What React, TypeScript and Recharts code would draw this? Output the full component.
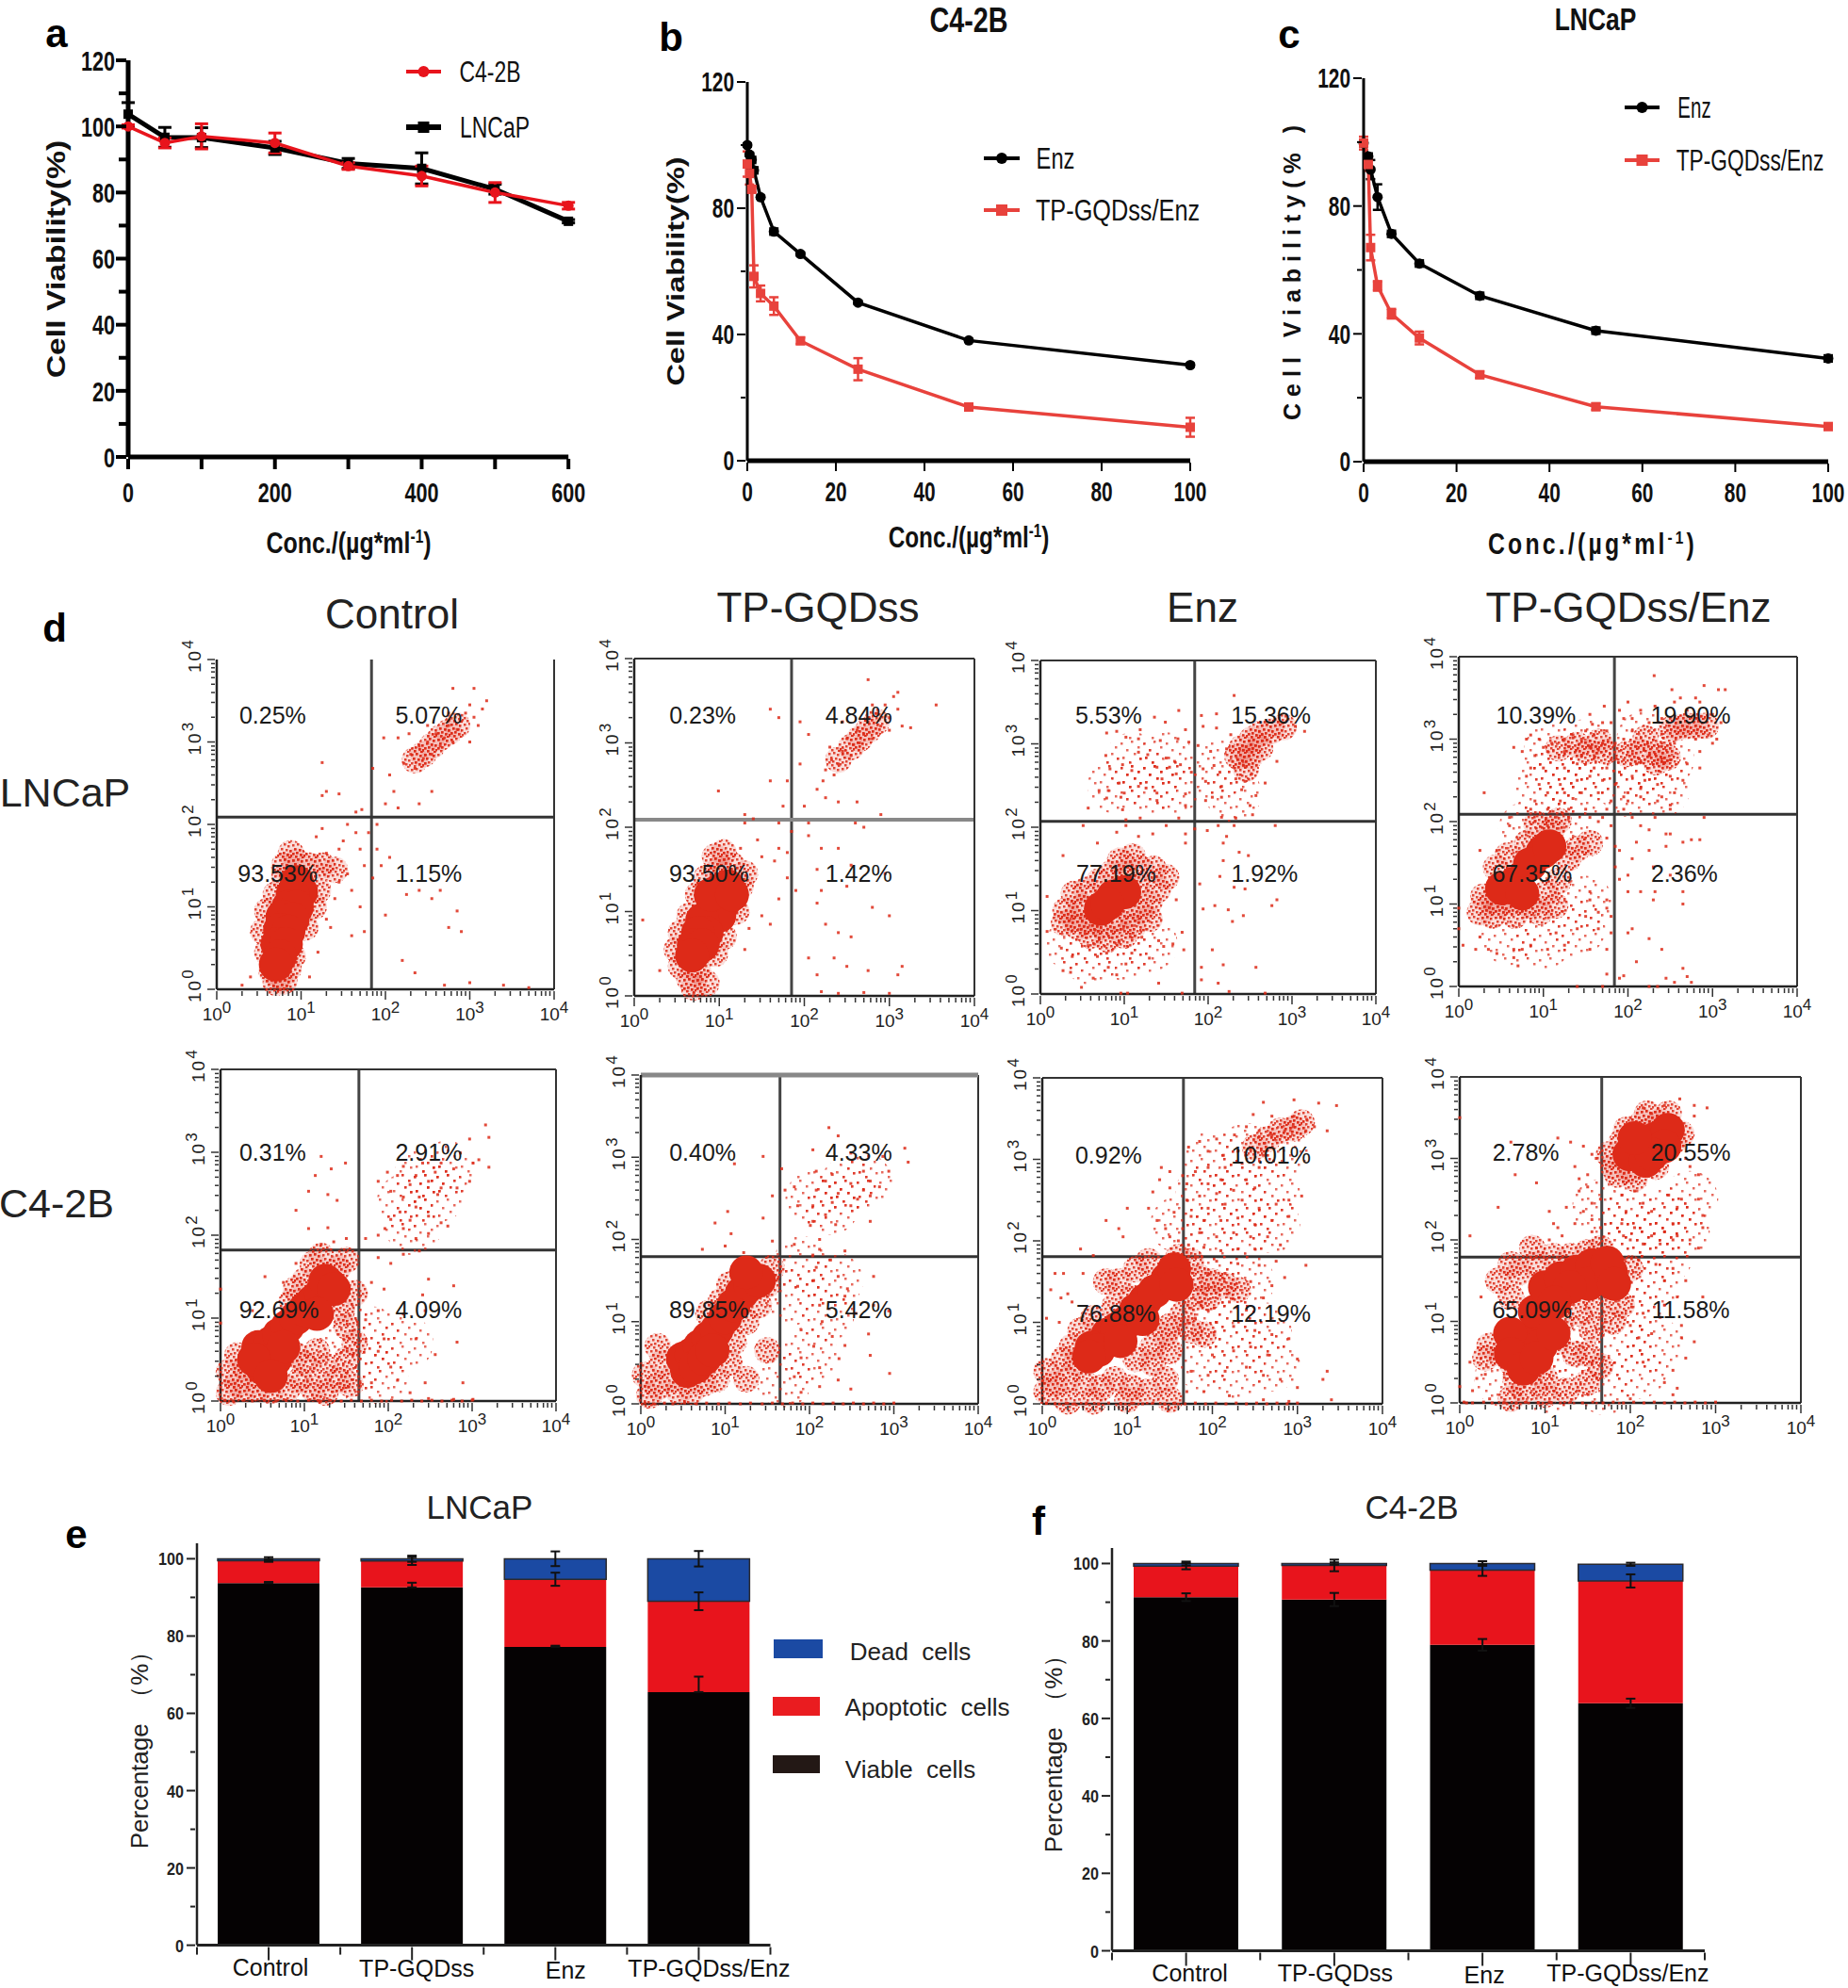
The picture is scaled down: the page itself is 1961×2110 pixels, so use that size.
import React from "react";
import {
  LineChart,
  Line,
  XAxis,
  YAxis,
  ErrorBar,
  ScatterChart,
  Scatter,
  ReferenceLine,
  ComposedChart,
  Bar,
} from "recharts";

const K = 1961 / 1457;
const FONT = '"Liberation Sans", Arial, sans-serif';
const RED = "#e8141c";
const SOFT_RED = "#e8423c";
const DOT_RED = "#dd2a18";

// panel a
const concA = [0, 50, 100, 200, 300, 400, 500, 600];
const c42bA = [100, 95, 97, 95, 88, 85, 80, 76];
const c42bErrA = [0.5, 1.5, 3.8, 3, 1, 3, 3, 1];
const lncapA = [103.7, 96.7, 96.6, 93.5, 88.8, 87.3, 81, 71.3];
const lncapErrA = [3.5, 3, 3, 2, 1.5, 4.7, 1.5, 0.5];

// panel b
const concB = [0, 0.5, 1, 1.5, 3, 6, 12, 25, 50, 100];
const enzB = [100, 97, 95.3, 92, 83.5, 72.6, 65.5, 50.1, 38.1, 30.3];
const enzErrB = [0.5, 0.5, 1, 1, 0.5, 1, 0.5, 0.5, 0.5, 0.5];
const tpB = [94, 91, 86, 58.4, 53, 49, 38, 29, 17, 10.6];
const tpErrB = [4, 3.5, 1, 3.5, 2.5, 2.8, 1, 3.5, 1, 3];

// panel c
const concC = [0, 1, 1.5, 3, 6, 12, 25, 50, 100];
const enzC = [99.7, 95.5, 91.4, 82.8, 71.3, 62, 51.9, 41, 32.3];
const enzErrC = [1, 1, 3, 4, 1, 1, 1, 1, 1];
const tpC = [99.7, 93, 67, 55, 46.3, 38.7, 27.2, 17.2, 11];
const tpErrC = [2, 2, 4, 1.5, 1.5, 2, 1, 1, 1];

// panels e and f
const groups = ["Control", "TP-GQDss", "Enz", "TP-GQDss/Enz"];
const viableE = [93.7, 92.6, 77.2, 65.5];
const apoptoticE = [5.8, 6.8, 17.5, 23.5];
const deadE = [0.5, 0.6, 5.3, 11];
const viableErrE = [[0, 0.3], [0, 1.2], [0, 0.3], [0, 4]];
const apoptoticErrE = [[0.3, 0.3], [1, 1], [1.7, 1.7], [2.3, 2.3]];
const deadErrE = [[0.4, 0.4], [0.8, 0.8], [1.9, 1.9], [2, 2]];
const viableF = [91.3, 90.7, 79, 63.9];
const apoptoticF = [8, 8.8, 19.3, 31.6];
const deadF = [0.7, 0.5, 1.7, 4.3];
const viableErrF = [[1, 1], [1.7, 1.7], [1.5, 1.5], [1.2, 1.2]];
const apoptoticErrF = [[0.8, 0.8], [1.5, 1.5], [1.5, 1.5], [1.7, 1.7]];
const deadErrF = [[0.5, 0.5], [0.3, 0.3], [0.6, 0.6], [0.4, 0.4]];

// panel d, flow events, as log10(intensity) x 100
const coreL1 = [[95,130],[100,118],[90,115],[85,100],[95,100],[78,88],[90,85],[75,72],[85,70],[72,55],[82,55],[75,40],[70,30]];
const haloL1 = [[75,15],[70,8],[65,22],[80,10],[85,25],[60,45],[90,40],[55,70],[60,95],[105,75],[115,100],[120,120],[70,115],[80,135],[110,150],[95,155],[125,150],[140,145],[80,150],[88,165],[245,285],[255,295],[265,305],[235,278],[275,312],[285,320]];
const dotsL1 = [[222,274],[230,285],[235,268],[240,295],[245,280],[250,300],[255,285],[260,310],[265,295],[270,305],[275,320],[280,300],[285,315],[290,325],[295,335],[300,345],[305,330],[310,320],[300,300],[315,340],[320,350],[305,365],[280,365],[275,335],[250,320],[228,310],[215,305],[198,305],[205,260],[185,268],[210,240],[215,220],[240,225],[255,240],[125,275],[130,240],[125,235],[145,237],[165,215],[190,200],[200,225],[172,218],[180,190],[190,170],[205,160],[195,150],[165,190],[150,180],[145,170],[130,165],[118,185],[125,195],[155,200],[170,170],[175,150],[185,135],[160,120],[170,100],[175,70],[200,90],[240,120],[255,110],[225,115],[265,120],[285,95],[290,70],[275,75],[220,35],[235,20],[270,5],[300,8],[340,5],[370,2],[160,65],[135,75],[155,140],[145,130],[140,110],[130,85],[120,45],[110,15],[40,15],[30,5]];

const coreL2 = [[110,130],[100,125],[105,110],[95,110],[90,95],[100,95],[80,90],[85,75],[75,75],[70,60],[80,60],[68,48],[90,120],[115,120]];
const haloL2 = [[75,30],[65,20],[70,10],[85,15],[55,35],[50,55],[55,75],[65,95],[120,100],[125,130],[105,70],[95,50],[85,140],[100,150],[115,155],[130,145],[105,170],[95,165],[75,120],[240,280],[255,295],[265,305],[275,315],[285,325]];
const dotsL2 = [[225,268],[232,280],[222,255],[215,245],[235,262],[240,275],[230,295],[245,290],[250,305],[255,285],[258,298],[262,315],[265,300],[270,310],[275,325],[280,305],[285,335],[290,320],[295,345],[300,330],[305,355],[310,340],[300,315],[315,320],[280,345],[275,375],[310,360],[355,345],[325,318],[245,325],[205,310],[195,325],[170,330],[180,255],[195,275],[160,340],[99,243],[160,255],[170,205],[175,225],[200,225],[225,235],[240,230],[260,205],[262,230],[130,215],[140,210],[130,205],[185,195],[205,205],[180,170],[170,175],[165,160],[150,165],[145,185],[125,175],[205,190],[220,175],[215,150],[240,175],[270,200],[290,215],[295,145],[255,155],[250,130],[220,125],[215,110],[190,125],[180,140],[170,115],[225,85],[240,75],[255,70],[280,105],[300,95],[205,45],[215,25],[235,45],[250,35],[275,30],[315,35],[310,25],[160,85],[150,95],[135,80],[130,55],[220,5],[240,3],[270,4],[300,3],[70,3],[30,30],[10,90]];

const coreL3 = [[87,117],[72,102],[100,122],[80,108]];
const haloL3 = [[30,100],[40,90],[50,105],[45,80],[60,85],[75,80],[90,90],[105,95],[120,100],[130,110],[115,130],[100,145],[120,150],[135,150],[150,140],[85,145],[70,135],[55,125],[40,120],[60,70],[80,65],[100,70],[110,80],[28,85],[130,90],[140,125],[110,165],[95,160],[240,295],[252,305],[262,312],[275,315],[290,320],[250,285],[235,285],[262,295],[245,270]];
const washL3 = [[110,280],[150,280],[90,250],[130,250],[160,250],[215,270],[230,240],[60,45],[100,50],[130,60],[40,60]];
const dotsL3 = [[79,313],[91,315],[102,308],[119,317],[136,332],[149,326],[165,340],[143,304],[117,306],[173,317],[164,306],[177,302],[78,286],[98,275],[117,290],[128,287],[150,283],[160,279],[83,270],[109,268],[139,272],[154,272],[167,275],[180,266],[145,258],[162,264],[94,253],[117,249],[126,247],[70,244],[81,244],[100,241],[139,241],[79,235],[96,236],[139,232],[173,240],[57,223],[98,221],[173,226],[102,209],[119,211],[165,211],[231,358],[210,336],[192,334],[194,321],[210,319],[227,311],[304,321],[315,315],[289,325],[222,294],[203,291],[188,298],[207,274],[229,279],[252,264],[194,270],[214,266],[233,258],[244,255],[268,253],[240,245],[216,249],[197,255],[197,232],[205,236],[216,236],[257,238],[250,226],[253,215],[216,212],[233,211],[282,279],[199,196],[212,202],[231,202],[280,202],[222,189],[218,181],[237,170],[248,166],[218,160],[214,141],[231,128],[244,126],[190,132],[282,113],[276,106],[208,106],[224,101],[194,102],[242,94],[229,87],[205,53],[257,32],[218,35],[192,32],[212,13],[192,17],[225,3],[141,13],[184,198],[173,181],[173,192],[8,75],[27,28],[36,26],[49,8],[63,19],[81,32],[91,23],[68,45],[79,49],[102,36],[130,43],[109,49],[25,55],[38,45],[57,58],[94,62],[121,68],[141,64],[158,60],[169,74],[171,53],[147,57],[162,113],[8,117],[96,1],[104,1],[169,1],[268,1],[51,202],[91,194],[102,202],[117,189],[134,192],[150,202],[68,181],[27,166]];

const coreL4 = [[99,163],[66,125],[84,148],[51,119],[75,113],[107,170]];
const haloL4 = [[40,105],[29,109],[66,102],[47,98],[25,90],[40,86],[84,98],[103,113],[118,128],[129,155],[140,167],[110,190],[92,197],[118,201],[81,174],[58,159],[44,144],[155,174],[96,90],[66,86],[114,98],[151,285],[118,289],[166,297],[140,293],[173,285],[251,312],[259,314],[270,316],[281,316],[240,282],[247,278],[221,301],[292,316],[214,285],[199,282],[233,272]];
const washL4 = [[110,285],[150,290],[120,260],[160,260],[100,240],[140,235],[215,270],[200,240],[240,240],[245,275],[220,300],[60,60],[100,55],[140,70],[150,100],[120,195],[80,190]];
const dotsL4 = [[231,377],[290,365],[307,360],[315,360],[252,360],[262,350],[255,345],[280,350],[285,345],[232,340],[200,345],[190,335],[172,340],[155,330],[170,320],[180,320],[158,318],[175,310],[195,325],[215,335],[205,325],[225,320],[240,325],[270,335],[300,330],[310,320],[295,305],[305,300],[300,295],[85,305],[80,300],[95,300],[100,290],[110,295],[125,300],[135,305],[150,310],[145,300],[160,305],[170,295],[155,290],[185,295],[195,300],[205,310],[65,290],[75,285],[90,280],[105,285],[125,285],[145,280],[160,280],[180,275],[195,275],[210,270],[225,280],[240,295],[255,295],[280,300],[285,285],[250,275],[270,270],[285,265],[100,265],[85,265],[125,265],[140,270],[160,265],[175,265],[190,260],[205,255],[220,250],[235,245],[250,255],[265,250],[80,255],[95,245],[120,245],[140,250],[155,255],[170,250],[185,245],[200,235],[215,240],[240,230],[255,235],[105,235],[125,235],[145,235],[165,235],[180,225],[200,225],[215,230],[235,225],[250,220],[120,225],[135,228],[30,235],[90,225],[85,215],[105,215],[130,215],[150,215],[175,215],[195,215],[250,215],[195,230],[205,205],[215,195],[225,190],[232,205],[290,205],[245,185],[250,185],[265,175],[275,178],[285,178],[245,170],[210,175],[225,165],[190,165],[205,155],[185,145],[200,135],[230,145],[250,135],[190,130],[215,115],[200,115],[232,115],[265,115],[230,105],[265,100],[175,105],[155,115],[205,70],[200,65],[225,58],[240,45],[210,30],[245,10],[270,12],[265,22],[275,5],[235,0],[225,0],[190,10],[255,5],[175,15],[170,0],[140,0],[195,13],[0,70],[5,50],[25,60],[20,45],[35,45],[45,40],[65,35],[85,50],[105,45],[115,65],[125,50],[140,70],[165,70],[180,65],[155,45],[175,45],[70,25],[75,45],[65,45],[150,85],[165,90],[175,95],[155,105],[180,85],[25,165],[45,165],[0,95],[60,205],[105,195],[155,205],[170,205],[180,195],[175,180],[185,170],[165,200],[130,205],[90,200],[60,195]];

// events piled up on the bottom edge of the C4-2B plots
const bottomStrip = [[5,1],[15,0],[28,1],[38,0],[52,1],[66,0],[78,1],[92,0],[105,1],[118,0],[130,1],[144,0],[156,1],[168,0],[180,1],[192,0],[204,1],[216,0],[228,1],[240,0],[252,1],[264,0],[276,1],[288,0],[300,1]];

const coreC1 = [[55,55],[45,65],[60,70],[70,80],[50,40],[65,50],[80,90],[90,100],[100,110],[110,120],[120,130],[130,140],[75,65],[40,50],[60,30],[125,145],[135,135],[115,105]];
const haloC1 = [[20,20],[10,10],[30,15],[45,15],[60,12],[80,15],[95,25],[110,15],[125,10],[100,45],[115,60],[125,40],[140,25],[150,50],[90,55],[20,55],[10,35],[30,40],[150,90],[160,130],[145,110],[140,160],[100,145],[110,165],[120,175],[90,135],[150,170],[85,120],[155,20],[160,70]];
const washC1 = [[240,270],[220,240],[260,250],[270,280],[230,210],[130,30],[160,40],[150,85],[180,80],[190,30],[220,70]];
const dotsC1 = [[316,333],[320,318],[297,316],[286,299],[301,287],[320,282],[308,291],[263,287],[241,287],[218,283],[199,276],[188,265],[211,272],[233,272],[256,276],[278,280],[297,265],[282,257],[263,257],[248,265],[226,261],[203,253],[218,246],[237,246],[259,249],[233,234],[214,228],[226,218],[248,223],[263,215],[203,219],[196,208],[218,208],[233,196],[188,200],[173,196],[248,202],[271,211],[120,295],[149,287],[113,272],[132,280],[105,253],[128,249],[90,230],[139,242],[105,208],[128,209],[150,196],[135,192],[120,189],[188,173],[203,166],[218,177],[237,181],[248,147],[278,139],[241,128],[195,135],[180,143],[188,109],[218,105],[244,109],[282,71],[256,56],[233,75],[203,41],[211,25],[244,22],[289,22],[188,60],[180,22],[226,10],[248,3],[278,2],[301,2],[195,75],[173,98],[0,135],[0,94],[53,150],[90,166],[75,143],[38,109]];

const coreC2 = [[55,40],[50,55],[60,60],[70,70],[80,80],[65,45],[90,90],[100,105],[110,120],[120,135],[130,145],[140,150],[75,55],[125,160],[85,65]];
const haloC2 = [[20,20],[10,10],[25,50],[35,30],[45,15],[60,15],[75,25],[90,30],[105,50],[110,75],[125,100],[140,120],[150,145],[155,165],[105,145],[95,125],[20,70],[80,110],[5,35],[125,30],[150,65]];
const washC2 = [[245,265],[225,240],[265,270],[205,250],[180,130],[200,60],[170,30],[220,110],[230,150],[190,170]];
const dotsC2 = [[223,336],[234,326],[313,311],[317,294],[204,309],[249,305],[287,301],[145,301],[111,292],[167,286],[208,283],[227,279],[264,283],[294,283],[272,271],[249,268],[219,271],[182,264],[171,260],[208,260],[234,256],[264,260],[283,264],[257,249],[227,245],[204,241],[186,241],[249,241],[272,253],[219,230],[272,222],[231,218],[204,222],[201,217],[156,253],[103,234],[88,220],[107,207],[145,226],[73,188],[100,192],[122,184],[156,198],[182,194],[212,200],[212,188],[242,186],[204,181],[208,166],[234,155],[276,155],[186,143],[212,120],[242,131],[276,120],[294,113],[190,90],[227,82],[242,71],[272,59],[190,56],[212,44],[295,37],[234,29],[182,33],[190,14],[212,21],[249,18],[205,150],[225,175],[245,140],[215,100],[255,110],[205,70],[235,55],[270,85]];

const coreC3 = [[77,85],[99,100],[121,127],[147,153],[58,69],[88,92],[110,115],[132,138],[66,66],[92,77],[155,165],[158,146],[55,58],[118,104]];
const haloC3 = [[40,50],[30,30],[15,25],[5,15],[5,40],[50,25],[70,20],[85,30],[105,20],[125,15],[145,30],[130,50],[110,55],[150,65],[130,70],[150,95],[165,110],[145,85],[35,70],[25,55],[75,150],[90,150],[110,165],[125,175],[105,130],[85,120],[60,105],[45,90],[160,180],[175,175],[185,155],[200,150],[215,145],[230,140],[180,130],[195,130],[175,90],[190,85],[100,5],[60,3],[30,3],[150,5],[280,335],[295,338],[305,345],[265,325],[250,315]];
const washC3 = [[200,210],[240,210],[270,220],[190,260],[230,260],[270,260],[200,300],[240,310],[280,310],[160,220],[200,150],[240,150],[190,100],[230,100],[260,90],[190,50],[230,40],[270,50]];
const dotsC3 = [[260,370],[296,373],[325,369],[346,366],[248,355],[270,353],[296,353],[311,349],[320,340],[335,335],[310,335],[295,340],[285,335],[270,330],[255,335],[240,340],[226,330],[205,325],[185,322],[172,315],[195,310],[213,305],[230,310],[245,312],[260,305],[272,298],[255,290],[235,295],[215,290],[195,290],[180,285],[165,280],[150,285],[140,290],[138,275],[150,265],[170,270],[195,270],[210,275],[240,275],[250,265],[225,262],[205,258],[185,255],[170,250],[195,240],[215,245],[235,250],[255,240],[275,245],[290,250],[305,255],[290,230],[270,225],[250,220],[230,228],[210,225],[190,225],[175,230],[165,215],[185,210],[205,205],[225,210],[245,205],[265,205],[280,195],[250,190],[230,190],[210,188],[190,192],[172,195],[160,200],[150,205],[145,215],[155,185],[135,225],[125,240],[130,260],[155,235],[100,240],[90,215],[95,205],[75,225],[60,182],[45,190],[180,180],[205,175],[230,172],[255,170],[275,175],[310,170],[195,160],[215,160],[245,150],[270,145],[285,155],[260,130],[240,115],[220,125],[195,115],[180,105],[205,100],[225,95],[250,90],[270,85],[290,80],[300,55],[265,60],[245,70],[225,65],[200,60],[185,75],[175,40],[195,35],[215,40],[240,45],[260,35],[280,30],[300,20],[335,40],[330,30],[340,5],[220,10],[260,5],[290,3],[190,15],[170,15],[15,160],[25,160],[30,135],[10,140],[22,130],[48,160],[5,105],[20,100],[35,125]];

const coreC4 = [[81,81],[70,74],[96,97],[74,59],[88,112],[100,142],[118,153],[137,161],[155,169],[151,146],[129,142],[177,161],[173,172],[181,146],[59,85],[111,123],[60,60],[95,70],[75,42],[90,55],[110,85],[210,312],[229,324],[244,335],[199,305],[218,297],[240,315],[225,305],[205,325]];
const haloC4 = [[50,60],[35,70],[30,55],[60,50],[85,40],[65,30],[90,65],[115,75],[120,100],[140,110],[160,120],[155,90],[135,60],[100,30],[75,15],[60,5],[100,10],[125,15],[150,25],[150,60],[165,45],[180,100],[60,130],[45,150],[70,160],[90,170],[110,180],[130,180],[150,185],[85,190],[60,170],[165,190],[190,120],[200,165],[180,290],[190,320],[175,305],[185,280],[200,285],[195,335],[215,345],[235,345],[250,320],[260,330],[230,290],[205,275],[245,355],[220,355]];
const washC4 = [[200,230],[240,230],[190,190],[215,200],[260,210],[270,250],[165,240],[200,120],[190,80],[210,40],[230,70],[170,20],[225,140],[240,180],[50,30],[100,20],[130,30],[140,90]];
const dotsC4 = [[258,373],[240,365],[275,365],[290,362],[275,352],[200,350],[215,362],[225,355],[265,300],[270,290],[280,280],[0,350],[12,205],[45,240],[60,320],[65,280],[90,270],[115,325],[130,320],[145,315],[135,290],[155,305],[160,300],[150,280],[140,275],[150,265],[155,245],[140,260],[115,215],[105,235],[125,240],[145,235],[155,225],[165,250],[165,215],[155,210],[135,220],[120,205],[110,220],[105,200],[90,190],[190,255],[205,260],[215,245],[245,255],[260,250],[255,240],[280,250],[285,230],[285,215],[250,220],[225,235],[195,235],[190,220],[205,215],[225,205],[240,210],[255,205],[235,195],[250,200],[215,195],[200,200],[270,200],[280,190],[192,205],[210,175],[230,170],[250,165],[240,150],[255,130],[240,120],[215,110],[235,105],[260,80],[275,75],[265,55],[250,40],[240,25],[255,18],[250,10],[200,5],[285,130],[265,150],[260,95],[225,85],[210,80],[215,50],[200,95],[25,130],[12,50],[25,55],[20,30],[30,35],[15,15],[0,20],[35,5],[8,0]];

const flowDecades = [0, 100, 200, 300, 400];
const flowMinors = [30, 48, 60, 70, 78, 85, 90, 95];
const flowTicks = [...flowDecades, ...[0, 100, 200, 300].flatMap((d) => flowMinors.map((m) => d + m))].sort((a, b) => a - b);

const flowPanels = [
  { core: coreL1, halo: haloL1, wash: [], dots: dotsL1, gate: [183.5, 209], box: [171, 437, 520, 780], top: false, pct: ["0.25%", "5.07%", "93.53%", "1.15%"], at: [[215, 564], [338, 564], [219, 689], [338, 689]] },
  { core: coreL2, halo: haloL2, wash: [], dots: dotsL2, gate: [185, 209], box: [500, 768, 519, 785], top: true, gateGrey: true, pct: ["0.23%", "4.84%", "93.50%", "1.42%"], at: [[554, 564], [677, 564], [559, 689], [677, 689]] },
  { core: coreL3, halo: haloL3, wash: washL3, dots: dotsL3, gate: [184, 207], box: [820, 1085, 521, 784], top: true, pct: ["5.53%", "15.36%", "77.19%", "1.92%"], at: [[874, 564], [1002, 564], [880, 689], [997, 689]] },
  { core: coreL4, halo: haloL4, wash: washL4, dots: dotsL4, gate: [184, 209], box: [1150, 1417, 518, 778], top: true, pct: ["10.39%", "19.90%", "67.35%", "2.36%"], at: [[1211, 564], [1333, 564], [1208, 689], [1328, 689]] },
  { core: coreC1, halo: haloC1, wash: washC1, dots: [...dotsC1, ...bottomStrip], gate: [165, 182], box: [174, 438, 843, 1105], top: true, pct: ["0.31%", "2.91%", "92.69%", "4.09%"], at: [[215, 909], [338, 909], [220, 1033], [338, 1033]] },
  { core: coreC2, halo: haloC2, wash: washC2, dots: [...dotsC2, ...bottomStrip], gate: [165, 179], box: [505, 771, 848, 1107], top: true, topGrey: true, pct: ["0.40%", "4.33%", "89.85%", "5.42%"], at: [[554, 909], [677, 909], [559, 1033], [677, 1033]] },
  { core: coreC3, halo: haloC3, wash: washC3, dots: [...dotsC3, ...bottomStrip], gate: [166, 180.5], box: [822, 1090, 850, 1107], top: true, pct: ["0.92%", "10.01%", "76.88%", "12.19%"], at: [[874, 911], [1002, 911], [880, 1036], [1002, 1036]] },
  { core: coreC4, halo: haloC4, wash: washC4, dots: [...dotsC4, ...bottomStrip], gate: [166.5, 179], box: [1151, 1420, 849, 1106], top: true, pct: ["2.78%", "20.55%", "65.09%", "11.58%"], at: [[1203, 909], [1333, 909], [1208, 1033], [1333, 1033]] },
];

// tiles for the speckle inside the flow clouds
const speckleTile = [[0,1],[5,0],[9,2],[2,5],[7,6],[11,7],[4,9],[0,10],[8,11],[12,12],[3,13],[10,14]];
const washTile = [[1,2],[12,0],[19,6],[7,9],[15,13],[3,17],[21,18],[10,22]];

function Txt({ x, y, size, bold, sx = 1, rot = 0, color = "#111", spacing = 0, children }: any) {
  return (
    <div
      style={{
        position: "absolute",
        left: x,
        top: y,
        fontFamily: FONT,
        fontSize: size,
        fontWeight: bold ? 700 : 400,
        color,
        letterSpacing: spacing,
        lineHeight: 1,
        whiteSpace: "pre",
        transform: `translate(-50%,-50%) rotate(${rot}deg) scaleX(${sx})`,
      }}
    >
      {children}
    </div>
  );
}

function Place({ left, top, children }: any) {
  return <div style={{ position: "absolute", left, top }}>{children}</div>;
}

function Sup({ children }: any) {
  return <span style={{ fontSize: "0.62em", verticalAlign: "0.55em", lineHeight: 0 }}>{children}</span>;
}

function makeTicksX(opts: any) {
  return function TickX({ x, y, payload }: any) {
    const v = payload.value;
    const show = opts.labels.includes(v);
    return (
      <g>
        <line x1={x} y1={y} x2={x} y2={y + opts.len} stroke="#000" strokeWidth={opts.w} />
        {show && (
          <text
            transform={`translate(${x},${y + opts.dy}) scale(${opts.sx},1)`}
            textAnchor="middle"
            fontFamily={FONT}
            fontWeight={700}
            fontSize={opts.size}
            fill="#111"
          >
            {v}
          </text>
        )}
      </g>
    );
  };
}

function makeTicksY(opts: any) {
  return function TickY({ x, y, payload }: any) {
    const v = payload.value;
    const show = opts.labels.includes(v);
    return (
      <g>
        <line x1={x} y1={y} x2={x - (show ? opts.len : opts.minor)} y2={y} stroke="#000" strokeWidth={opts.w} />
        {show && (
          <text
            transform={`translate(${x - opts.dx},${y + opts.size * 0.36}) scale(${opts.sx},1)`}
            textAnchor="end"
            fontFamily={FONT}
            fontWeight={700}
            fontSize={opts.size}
            fill="#111"
          >
            {v}
          </text>
        )}
      </g>
    );
  };
}

function circleDot(r: number, fill: string) {
  return function CircleDot({ cx, cy, index }: any) {
    return <circle key={index} cx={cx} cy={cy} r={r} fill={fill} />;
  };
}

function squareDot(s: number, fill: string) {
  return function SquareDot({ cx, cy, index }: any) {
    return <rect key={index} x={cx - s / 2} y={cy - s / 2} width={s} height={s} fill={fill} />;
  };
}

function ViabilityChart({ frame, xMax, xTicks, xLabels, yTicks, yLabels, table, first, second, style }: any) {
  const [l, r, t, b] = frame;
  const pad = { l: 80, r: 40, t: 20, b: 60 };
  const tickX = makeTicksX({ labels: xLabels, len: style.tick, w: style.tickW, dy: style.xDy, sx: style.sx, size: style.size });
  const tickY = makeTicksY({ labels: yLabels, len: style.tick, minor: style.minor, w: style.tickW, dx: style.yDx, sx: style.sx, size: style.size });
  return (
    <Place left={l - pad.l} top={t - pad.t}>
      <LineChart
        width={r - l + pad.l + pad.r}
        height={b - t + pad.t + pad.b}
        data={table}
        margin={{ top: pad.t, right: pad.r, bottom: pad.b - 1, left: pad.l - 1 }}
      >
        <XAxis dataKey="x" type="number" domain={[0, xMax]} ticks={xTicks} interval={0} height={1} tickSize={0} tick={tickX} tickLine={false} axisLine={{ stroke: "#000", strokeWidth: style.axisWX }} />
        <YAxis type="number" domain={[0, 120]} ticks={yTicks} interval={0} width={1} tickSize={0} tick={tickY} tickLine={false} axisLine={{ stroke: "#000", strokeWidth: style.axisW }} />
        {[first, second].map((s: any) => (
          <Line key={s.key} dataKey={s.key} stroke={s.color} strokeWidth={s.width} dot={s.dot} isAnimationActive={false}>
            <ErrorBar dataKey={s.err} width={style.cap} stroke={s.color} strokeWidth={style.errW} isAnimationActive={false} />
          </Line>
        ))}
      </LineChart>
    </Place>
  );
}

function FlowXTick({ x, y, payload }: any) {
  const v = payload.value;
  const major = v % 100 === 0;
  return (
    <g>
      <line x1={x} y1={y} x2={x} y2={y + (major ? 9 : 5)} stroke="#333" strokeWidth={1.5} />
      {major && (
        <text x={x} y={y + 31} textAnchor="middle" fontFamily={FONT} fontSize={19} fill="#222">
          10
          <tspan dy={-8} fontSize={17}>
            {v / 100}
          </tspan>
        </text>
      )}
    </g>
  );
}

function FlowYTick({ x, y, payload }: any) {
  const v = payload.value;
  const major = v % 100 === 0;
  return (
    <g>
      <line x1={x} y1={y} x2={x - (major ? 8 : 4)} y2={y} stroke="#333" strokeWidth={1.5} />
      {major && (
        <text transform={`translate(${x - 15},${y + 14}) rotate(-90)`} textAnchor="start" fontFamily={FONT} fontSize={19} letterSpacing={2} fill="#222">
          10
          <tspan dy={-8} fontSize={17}>
            {v / 100}
          </tspan>
        </text>
      )}
    </g>
  );
}

function FlowDot({ cx, cy }: any) {
  return <rect x={cx - 1.5} y={cy - 1.5} width={3} height={3} fill={DOT_RED} fillOpacity={0.85} />;
}

function FlowWash({ cx, cy }: any) {
  return <circle cx={cx} cy={cy} r={30} fill="url(#flowWash)" />;
}

function FlowCloud({ cx, cy }: any) {
  return (
    <g>
      <circle cx={cx} cy={cy} r={14} fill={DOT_RED} fillOpacity={0.16} />
      <circle cx={cx} cy={cy} r={14} fill="url(#flowSpeckle)" />
    </g>
  );
}

function FlowCore({ cx, cy }: any) {
  return <circle cx={cx} cy={cy} r={18} fill={DOT_RED} />;
}

const toPoints = (list: number[][]) => list.map(([x, y]) => ({ x, y }));

function FlowPanel({ panel }: any) {
  const [l, r, t, b] = panel.box.map((n: number) => Math.round(n * K));
  const pad = { l: 60, r: 30, t: 45, b: 50 };
  return (
    <Place left={l - pad.l} top={t - pad.t}>
      <ScatterChart width={r - l + pad.l + pad.r} height={b - t + pad.t + pad.b} margin={{ top: pad.t, right: pad.r, bottom: pad.b - 1, left: pad.l - 1 }}>
        <XAxis dataKey="x" type="number" domain={[0, 400]} ticks={flowTicks} interval={0} height={1} tickSize={0} tick={FlowXTick} tickLine={false} axisLine={{ stroke: "#222", strokeWidth: 2.5 }} />
        <YAxis dataKey="y" type="number" domain={[0, 400]} ticks={flowTicks} interval={0} width={1} tickSize={0} tick={FlowYTick} tickLine={false} axisLine={{ stroke: "#222", strokeWidth: 2.5 }} />
        <Scatter data={toPoints(panel.wash)} shape={FlowWash} isAnimationActive={false} />
        <Scatter data={toPoints(panel.halo)} shape={FlowCloud} isAnimationActive={false} />
        <Scatter data={toPoints(panel.core)} shape={FlowCore} isAnimationActive={false} />
        <Scatter data={toPoints(panel.dots)} shape={FlowDot} isAnimationActive={false} />
        <ReferenceLine x={panel.gate[0]} stroke="#444" strokeWidth={3} />
        <ReferenceLine y={panel.gate[1]} stroke={panel.gateGrey ? "#888" : "#333"} strokeWidth={panel.gateGrey ? 4 : 3} />
        <ReferenceLine x={400} stroke="#333" strokeWidth={2} />
        {panel.top && <ReferenceLine y={400} stroke={panel.topGrey ? "#888" : "#333"} strokeWidth={panel.topGrey ? 5 : 2} />}
      </ScatterChart>
    </Place>
  );
}

function BarTickY({ x, y, payload }: any) {
  const v = payload.value;
  const show = v % 20 === 0;
  return (
    <g>
      <line x1={x} y1={y} x2={x - (show ? 9 : 5)} y2={y} stroke="#222" strokeWidth={2} />
      {show && (
        <text transform={`translate(${x - 12},${y + 7}) scale(0.85,1)`} textAnchor="end" fontFamily={FONT} fontWeight={700} fontSize={19} fill="#222">
          {v}
        </text>
      )}
    </g>
  );
}

function StackedChart({ frame, viable, apoptotic, dead, viableErr, apoptoticErr, deadErr, barSize, labelDx, labelDy }: any) {
  const [l, r, t, b] = frame;
  const pad = { l: 50, r: 30, t: 10, b: 38 };
  const band = (r - l) / groups.length;
  const table = groups.map((name, i) => ({
    name,
    viable: viable[i],
    apoptotic: apoptotic[i],
    dead: dead[i],
    viableTop: viable[i],
    apoptoticTop: viable[i] + apoptotic[i],
    deadTop: viable[i] + apoptotic[i] + dead[i],
    viableErr: viableErr[i],
    apoptoticErr: apoptoticErr[i],
    deadErr: deadErr[i],
  }));
  const CatTick = ({ x, y, payload, index }: any) => (
    <g>
      <line x1={x} y1={y} x2={x} y2={y + 14} stroke="#222" strokeWidth={2} />
      <line x1={x - band / 2} y1={y} x2={x - band / 2} y2={y + 8} stroke="#222" strokeWidth={2} />
      {index === groups.length - 1 && <line x1={x + band / 2} y1={y} x2={x + band / 2} y2={y + 8} stroke="#222" strokeWidth={2} />}
      <text x={x + labelDx[index]} y={y + labelDy[index]} textAnchor="middle" fontFamily={FONT} fontSize={25} fill="#111">
        {payload.value}
      </text>
    </g>
  );
  return (
    <Place left={l - pad.l} top={t - pad.t}>
      <ComposedChart width={r - l + pad.l + pad.r} height={b - t + pad.t + pad.b} data={table} margin={{ top: pad.t, right: pad.r, bottom: pad.b - 1, left: pad.l - 1 }}>
        <XAxis dataKey="name" type="category" interval={0} height={1} tickSize={0} tick={CatTick} tickLine={false} axisLine={{ stroke: "#222", strokeWidth: 3 }} />
        <YAxis type="number" domain={[0, 104]} ticks={[0, 10, 20, 30, 40, 50, 60, 70, 80, 90, 100]} interval={0} width={1} tickSize={0} tick={BarTickY} tickLine={false} axisLine={{ stroke: "#222", strokeWidth: 2.5 }} />
        <Bar dataKey="viable" stackId="s" fill="#050203" barSize={barSize} isAnimationActive={false} />
        <Bar dataKey="apoptotic" stackId="s" fill={RED} barSize={barSize} isAnimationActive={false} />
        <Bar dataKey="dead" stackId="s" fill="#1b4aa3" stroke="#2a2a30" strokeWidth={1.5} barSize={barSize} isAnimationActive={false} />
        {[
          ["viableTop", "viableErr"],
          ["apoptoticTop", "apoptoticErr"],
          ["deadTop", "deadErr"],
        ].map(([key, err]) => (
          <Line key={key} dataKey={key} stroke="none" dot={false} isAnimationActive={false}>
            <ErrorBar dataKey={err} width={5} stroke="#111" strokeWidth={2} isAnimationActive={false} />
          </Line>
        ))}
      </ComposedChart>
    </Place>
  );
}

function LegendKey({ x, y, w, color, lineW, dot }: any) {
  return (
    <svg style={{ position: "absolute", left: x, top: y - 12 }} width={w} height={24}>
      <line x1={0} y1={12} x2={w} y2={12} stroke={color} strokeWidth={lineW} />
      {dot === "circle" ? <circle cx={w / 2} cy={12} r={6} fill={color} /> : <rect x={w / 2 - 6} y={6} width={12} height={12} fill={color} />}
    </svg>
  );
}

function Swatch({ x, y, w, h, color }: any) {
  return <div style={{ position: "absolute", left: x, top: y, width: w, height: h, background: color }} />;
}

const rows = (x: number[], cols: Record<string, number[]>) =>
  x.map((v, i) => {
    const row: any = { x: v };
    Object.keys(cols).forEach((k) => (row[k] = cols[k][i]));
    return row;
  });

export default function App() {
  const tableA = rows(concA, { c42b: c42bA, c42bErr: c42bErrA, lncap: lncapA, lncapErr: lncapErrA });
  const tableB = rows(concB, { enz: enzB, enzErr: enzErrB, tp: tpB, tpErr: tpErrB });
  const tableC = rows(concC, { enz: enzC, enzErr: enzErrC, tp: tpC, tpErr: tpErrC });
  const styleA = { tick: 11, minor: 8, tickW: 4, xDy: 46, yDx: 12, sx: 0.72, size: 30, axisW: 5, axisWX: 5, cap: 7, errW: 3 };
  const styleB = { tick: 9, minor: 5, tickW: 2, xDy: 41, yDx: 12, sx: 0.72, size: 29, axisW: 3, axisWX: 5, cap: 5, errW: 2.5 };
  const axis10 = [0, 10, 20, 30, 40, 50, 60, 70, 80, 90, 100, 110, 120];
  const axis20 = [0, 20, 40, 60, 80, 100, 120];

  return (
    <div style={{ position: "absolute", left: 0, top: 0, width: 1961, height: 2110, background: "#fff", overflow: "hidden" }}>
      <svg width={1} height={1} style={{ position: "absolute", left: 0, top: 0 }}>
        <defs>
          <pattern id="flowSpeckle" patternUnits="userSpaceOnUse" width={14} height={16}>
            {speckleTile.map(([px, py], i) => (
              <rect key={i} x={px} y={py} width={2.5} height={2.5} fill={DOT_RED} fillOpacity={0.85} />
            ))}
          </pattern>
          <pattern id="flowWash" patternUnits="userSpaceOnUse" width={24} height={26}>
            {washTile.map(([px, py], i) => (
              <rect key={i} x={px} y={py} width={2.5} height={2.5} fill={DOT_RED} fillOpacity={0.7} />
            ))}
          </pattern>
        </defs>
      </svg>

      <ViabilityChart
        frame={[135.5, 602.7, 64, 485]}
        xMax={600}
        xTicks={[0, 100, 200, 300, 400, 500, 600]}
        xLabels={[0, 200, 400, 600]}
        yTicks={axis10}
        yLabels={axis20}
        table={tableA}
        first={{ key: "lncap", err: "lncapErr", color: "#000", width: 5, dot: squareDot(10, "#000") }}
        second={{ key: "c42b", err: "c42bErr", color: RED, width: 3.5, dot: circleDot(5.5, RED) }}
        style={styleA}
      />
      <ViabilityChart
        frame={[793, 1263, 87, 489]}
        xMax={100}
        xTicks={[0, 20, 40, 60, 80, 100]}
        xLabels={[0, 20, 40, 60, 80, 100]}
        yTicks={axis20}
        yLabels={[0, 40, 80, 120]}
        table={tableB}
        first={{ key: "enz", err: "enzErr", color: "#000", width: 3.5, dot: circleDot(5.5, "#000") }}
        second={{ key: "tp", err: "tpErr", color: SOFT_RED, width: 3.5, dot: squareDot(10, SOFT_RED) }}
        style={styleB}
      />
      <ViabilityChart
        frame={[1447, 1940, 83, 490]}
        xMax={100}
        xTicks={[0, 20, 40, 60, 80, 100]}
        xLabels={[0, 20, 40, 60, 80, 100]}
        yTicks={axis20}
        yLabels={[0, 40, 80, 120]}
        table={tableC}
        first={{ key: "enz", err: "enzErr", color: "#000", width: 3.5, dot: circleDot(5.5, "#000") }}
        second={{ key: "tp", err: "tpErr", color: SOFT_RED, width: 3.5, dot: squareDot(10, SOFT_RED) }}
        style={styleB}
      />

      {flowPanels.map((p, i) => (
        <FlowPanel key={i} panel={p} />
      ))}
      {flowPanels.map((p, i) =>
        p.pct.map((text, j) => (
          <Txt key={`${i}-${j}`} x={p.at[j][0] * K} y={p.at[j][1] * K} size={25} color="#1a1a1a">
            {text}
          </Txt>
        ))
      )}

      <StackedChart
        frame={[208.5, 817, 1638, 2064.6]}
        viable={viableE}
        apoptotic={apoptoticE}
        dead={deadE}
        viableErr={viableErrE}
        apoptoticErr={apoptoticErrE}
        deadErr={deadErrE}
        barSize={108}
        labelDx={[2, 5, 11, 11]}
        labelDy={[30, 31, 33, 31]}
      />
      <StackedChart
        frame={[1180, 1809, 1643, 2070.5]}
        viable={viableF}
        apoptotic={apoptoticF}
        dead={deadF}
        viableErr={viableErrF}
        apoptoticErr={apoptoticErrF}
        deadErr={deadErrF}
        barSize={111}
        labelDx={[4, 1, 2, -3]}
        labelDy={[30, 30, 32, 30]}
      />

      {/* panel letters */}
      <Txt x={60} y={36} size={42} bold color="#000">a</Txt>
      <Txt x={712} y={40} size={42} bold color="#000">b</Txt>
      <Txt x={1368} y={37} size={42} bold color="#000">c</Txt>
      <Txt x={58} y={667} size={42} bold color="#000">d</Txt>
      <Txt x={81} y={1629} size={42} bold color="#000">e</Txt>
      <Txt x={1102} y={1615} size={42} bold color="#000">f</Txt>

      {/* panel a text */}
      <Txt x={60} y={275} size={27} bold rot={-90} sx={1.25}>Cell Viability(%)</Txt>
      <Txt x={370} y={576} size={32} bold sx={0.78}>Conc./(µg*ml<Sup>-1</Sup>)</Txt>
      <LegendKey x={431} y={76} w={37} color={RED} lineW={4} dot="circle" />
      <Txt x={520} y={76} size={31} sx={0.74}>C4-2B</Txt>
      <LegendKey x={431} y={135} w={37} color="#000" lineW={6} dot="square" />
      <Txt x={525} y={135} size={31} sx={0.74}>LNCaP</Txt>

      {/* panel b text */}
      <Txt x={1028} y={22} size={36} bold sx={0.8}>C4-2B</Txt>
      <Txt x={717} y={288} size={25} bold rot={-90} sx={1.3}>Cell Viability(%)</Txt>
      <Txt x={1028} y={570} size={32} bold sx={0.76}>Conc./(µg*ml<Sup>-1</Sup>)</Txt>
      <LegendKey x={1044} y={168} w={38} color="#000" lineW={4} dot="circle" />
      <Txt x={1120} y={168} size={32} sx={0.74}>Enz</Txt>
      <LegendKey x={1044} y={223} w={38} color={SOFT_RED} lineW={4} dot="square" />
      <Txt x={1186} y={223} size={32} sx={0.79}>TP-GQDss/Enz</Txt>

      {/* panel c text */}
      <Txt x={1693} y={20} size={33} bold sx={0.8}>LNCaP</Txt>
      <Txt x={1371} y={286} size={25} bold rot={-90} sx={1} spacing={7}>Cell Viability(% )</Txt>
      <Txt x={1690} y={577} size={31} bold sx={0.8} spacing={4}>Conc./(µg*ml<Sup>-1</Sup>)</Txt>
      <LegendKey x={1724} y={114} w={37} color="#000" lineW={4} dot="circle" />
      <Txt x={1798} y={114} size={32} sx={0.64}>Enz</Txt>
      <LegendKey x={1724} y={170} w={37} color={SOFT_RED} lineW={4} dot="square" />
      <Txt x={1857} y={170} size={32} sx={0.71}>TP-GQDss/Enz</Txt>

      {/* panel d text */}
      <Txt x={416} y={652} size={44} color="#222">Control</Txt>
      <Txt x={868} y={645} size={44} color="#222">TP-GQDss</Txt>
      <Txt x={1276} y={645} size={44} color="#222">Enz</Txt>
      <Txt x={1728} y={645} size={44} color="#222">TP-GQDss/Enz</Txt>
      <Txt x={69} y={841} size={43} color="#222">LNCaP</Txt>
      <Txt x={60} y={1277} size={43} color="#222">C4-2B</Txt>

      {/* panel e text */}
      <Txt x={509} y={1599} size={35} color="#222">LNCaP</Txt>
      <Txt x={148} y={1851} size={26} rot={-90} color="#222">Percentage  （%）</Txt>
      <Swatch x={821} y={1740} w={52} h={20} color="#1b4aa3" />
      <Swatch x={820} y={1801} w={50} h={20} color="#ea1c20" />
      <Swatch x={820} y={1863} w={50} h={19} color="#231815" />
      <Txt x={966} y={1753} size={26} color="#222">Dead  cells</Txt>
      <Txt x={984} y={1812} size={26} color="#222">Apoptotic  cells</Txt>
      <Txt x={966} y={1878} size={26} color="#222">Viable  cells</Txt>

      {/* panel f text */}
      <Txt x={1498} y={1599} size={35} color="#222">C4-2B</Txt>
      <Txt x={1118} y={1855} size={26} rot={-90} color="#222">Percentage  （%）</Txt>
    </div>
  );
}
